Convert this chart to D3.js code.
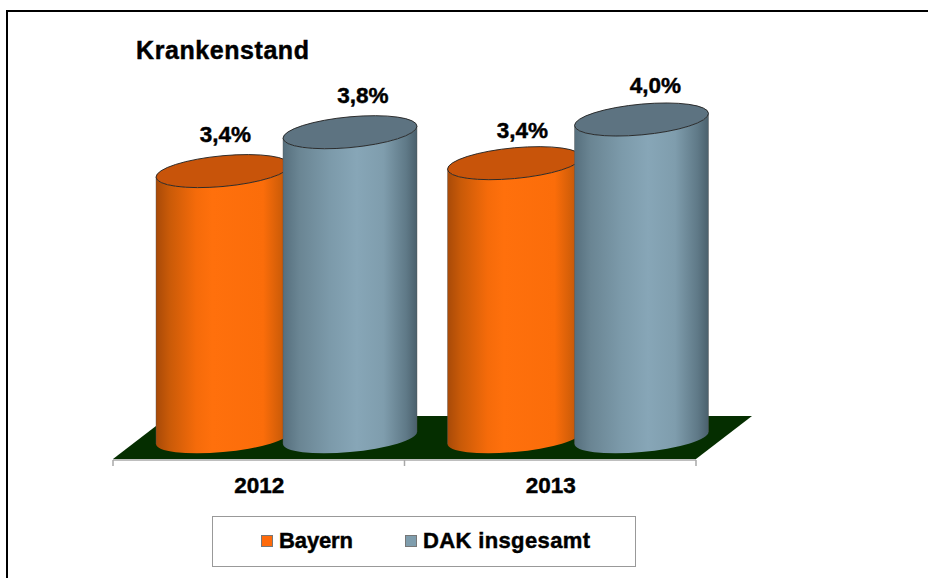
<!DOCTYPE html>
<html>
<head>
<meta charset="utf-8">
<script src="https://cdn.jsdelivr.net/npm/d3@7"></script>
<style>
html, body { margin: 0; padding: 0; background: #fff; overflow: hidden; }
svg { display: block; }
text { font-family: "Liberation Sans", Arial, sans-serif; font-weight: bold; fill: #000; stroke: #000; stroke-width: 0.45px; }
</style>
</head>
<body>
<div id="chart"></div>
<script>
const years = ["2012", "2013"];
const seriesNames = ["Bayern", "DAK insgesamt"];
// heights as drawn, the printed labels are rounded
const bayern = [3.35, 3.45];
const dak = [3.84, 4.0];
const labelsBayern = ["3,4%", "3,4%"];
const labelsDak = ["3,8%", "4,0%"];
const chartTitle = "Krankenstand";

const width = 928, height = 578;
const floorLeft = 113, floorRight = 696;
const floorFront = 459, floorBack = 416, floorDepth = 56;
const cylBase = 437;

const svg = d3.select("#chart").append("svg")
    .attr("width", width)
    .attr("height", height);

// frame of the picture, only top and left show
svg.append("path")
    .attr("d", `M${width},11 H7 V${height}`)
    .attr("fill", "none").attr("stroke", "#000").attr("stroke-width", 2);

const x0 = d3.scaleBand().domain(years).range([floorLeft, floorRight]);
const x1 = d3.scaleBand().domain(seriesNames).range([46.5, 300.5]);
const y = d3.scaleLinear().domain([0, 4]).range([cylBase, 119.5]);

const defs = svg.append("defs");
function cylGradient(id, stops) {
    const g = defs.append("linearGradient").attr("id", id)
        .attr("x1", "0%").attr("x2", "100%").attr("y1", "0%").attr("y2", "0%");
    stops.forEach(s => g.append("stop").attr("offset", s[0]).attr("stop-color", s[1]));
}
cylGradient("gradBayern", [[0, "#a84a08"], [0.1, "#c95a08"], [0.3, "#f56b0a"], [0.42, "#ff700c"], [0.8, "#fb6d0a"], [0.93, "#d05d08"], [1, "#b04e08"]]);
cylGradient("gradDak", [[0, "#566f7d"], [0.12, "#6a8593"], [0.35, "#7c9aaa"], [0.55, "#87a6b7"], [0.75, "#7f9dad"], [0.92, "#5f7987"], [1, "#4a606c"]]);

// floor
const floorPts = [[floorLeft, floorFront], [floorLeft + floorDepth, floorBack],
    [floorRight + floorDepth, floorBack], [floorRight, floorFront]];
svg.append("path")
    .attr("d", d3.line()(floorPts) + "Z")
    .attr("fill", "#052e00");

// axis line and ticks
const axis = svg.append("g").attr("stroke", "#a8a8a8").attr("stroke-width", 1.5);
axis.append("line").attr("x1", floorLeft).attr("x2", floorRight).attr("y1", 460).attr("y2", 460);
[floorLeft, x0(years[1]), floorRight].forEach(t => {
    axis.append("line").attr("x1", t).attr("x2", t).attr("y1", 460).attr("y2", 466);
});

svg.append("g").selectAll("text").data(years).join("text")
    .attr("x", d => x0(d) + x0.bandwidth() / 2 + 0.5)
    .attr("y", 493)
    .attr("text-anchor", "middle")
    .attr("font-size", 22.5)
    .text(d => d);

const rx = 67, ry = 15.4, ryBottom = 14, shear = 6 / 67;

function cylinder(cx, topY, fillId, topFill) {
    // sheared so the ellipses lean up to the right
    const g = svg.append("g")
        .attr("transform", `translate(${cx},0) matrix(1,${-shear},0,1,0,0)`);
    const bottom = cylBase + 1;
    g.append("path")
        .attr("d", `M${-rx},${topY} L${-rx},${bottom}
            A${rx},${ryBottom} 0 0 0 ${rx},${bottom}
            L${rx},${topY} A${rx},${ry} 0 0 1 ${-rx},${topY}Z`)
        .attr("fill", `url(#${fillId})`);
    [-rx, rx].forEach(sx => {
        g.append("line").attr("x1", sx).attr("x2", sx).attr("y1", topY).attr("y2", bottom)
            .attr("stroke", "#555").attr("stroke-opacity", 0.5).attr("stroke-width", 0.8);
    });
    g.append("ellipse")
        .attr("cx", 0).attr("cy", topY)
        .attr("rx", rx).attr("ry", ry)
        .attr("fill", topFill).attr("stroke", "#222").attr("stroke-width", 0.9);
}

const nudgeBayern = [[2.5, -29], [8, -25]];
const nudgeDak = [[13, -29], [14, -26.5]];

years.forEach((yr, i) => {
    const cxB = x0(yr) + x1(seriesNames[0]) + x1.bandwidth() / 2;
    const cxD = x0(yr) + x1(seriesNames[1]) + x1.bandwidth() / 2;
    cylinder(cxB, y(bayern[i]), "gradBayern", "#c8540a");
    cylinder(cxD, y(dak[i]), "gradDak", "#5d7381");
    svg.append("text").attr("x", cxB + nudgeBayern[i][0]).attr("y", y(bayern[i]) + nudgeBayern[i][1])
        .attr("text-anchor", "middle").attr("font-size", 22.5).text(labelsBayern[i]);
    svg.append("text").attr("x", cxD + nudgeDak[i][0]).attr("y", y(dak[i]) + nudgeDak[i][1])
        .attr("text-anchor", "middle").attr("font-size", 22.5).text(labelsDak[i]);
});

svg.append("text").attr("x", 136).attr("y", 59)
    .attr("font-size", 25).attr("textLength", 173).attr("lengthAdjust", "spacing")
    .text(chartTitle);

// legend
const legend = svg.append("g");
legend.append("rect")
    .attr("x", 212.5).attr("y", 516.5).attr("width", 423).attr("height", 50)
    .attr("fill", "#fff").attr("stroke", "#999").attr("stroke-width", 1);
const legendX = [261, 405];
const legendColors = ["#ff6a0a", "#7f9dad"];
const legendLen = [74, 167];
seriesNames.forEach((n, i) => {
    legend.append("rect").attr("x", legendX[i] + 0.5).attr("y", 535.5)
        .attr("width", 11).attr("height", 11)
        .attr("fill", legendColors[i]).attr("stroke", "#777").attr("stroke-width", 1);
    legend.append("text").attr("x", legendX[i] + 18).attr("y", 548)
        .attr("font-size", 22).attr("textLength", legendLen[i]).attr("lengthAdjust", "spacing")
        .text(n);
});
</script>
</body>
</html>
